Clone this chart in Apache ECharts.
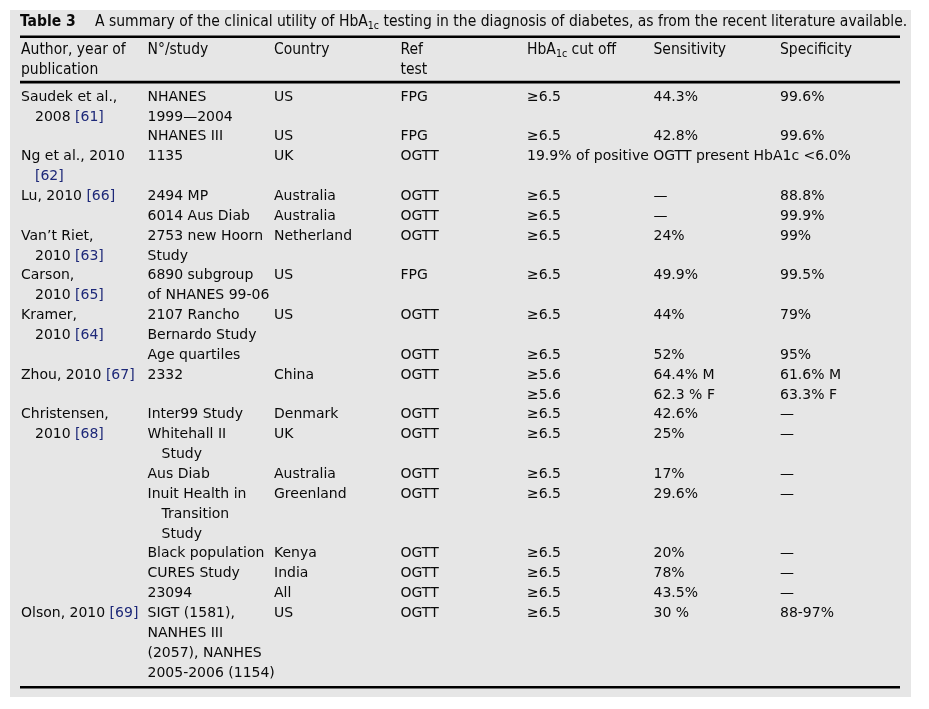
<!DOCTYPE html>
<html><head><meta charset="utf-8">
<script src="https://cdn.jsdelivr.net/npm/echarts@6/dist/echarts.min.js"></script>
<style>html,body{margin:0;padding:0;background:#fff}#c{width:929px;height:709px}</style>
</head><body><div id="c"></div>
<script>
// ---------- data ----------
const tableLabel = 'Table 3';
const tableTitle = 'A summary of the clinical utility of HbA{sub|1c} testing in the diagnosis of diabetes, as from the recent literature available.';
const headerLines = [
  ['Author, year of', 'publication'],
  ['N\u00b0/study'],
  ['Country'],
  ['Ref', 'test'],
  ['HbA{sub|1c} cut off'],
  ['Sensitivity'],
  ['Specificity']
];
// one entry per text line of the table body; a leading two spaces marks a hanging indent
const authorCol = ['Saudek et al.,', '  2008 [61]', '', 'Ng et al., 2010', '  [62]', 'Lu, 2010 [66]', '', 'Van\u2019t Riet,', '  2010 [63]', 'Carson,', '  2010 [65]', 'Kramer,', '  2010 [64]', '', 'Zhou, 2010 [67]', '', 'Christensen,', '  2010 [68]', '', '', '', '', '', '', '', '', 'Olson, 2010 [69]', '', '', ''];
const studyCol = ['NHANES', '1999\u20142004', 'NHANES III', '1135', '', '2494 MP', '6014 Aus Diab', '2753 new Hoorn', 'Study', '6890 subgroup', 'of NHANES 99-06', '2107 Rancho', 'Bernardo Study', 'Age quartiles', '2332', '', 'Inter99 Study', 'Whitehall II', '  Study', 'Aus Diab', 'Inuit Health in', '  Transition', '  Study', 'Black population', 'CURES Study', '23094', 'SIGT (1581),', 'NANHES III', '(2057), NANHES', '2005-2006 (1154)'];
const countryCol = ['US', '', 'US', 'UK', '', 'Australia', 'Australia', 'Netherland', '', 'US', '', 'US', '', '', 'China', '', 'Denmark', 'UK', '', 'Australia', 'Greenland', '', '', 'Kenya', 'India', 'All', 'US', '', '', ''];
const refTestCol = ['FPG', '', 'FPG', 'OGTT', '', 'OGTT', 'OGTT', 'OGTT', '', 'FPG', '', 'OGTT', '', 'OGTT', 'OGTT', '', 'OGTT', 'OGTT', '', 'OGTT', 'OGTT', '', '', 'OGTT', 'OGTT', 'OGTT', 'OGTT', '', '', ''];
const cutoffCol = ['\u22656.5', '', '\u22656.5', '19.9% of positive OGTT present HbA1c <6.0%', '', '\u22656.5', '\u22656.5', '\u22656.5', '', '\u22656.5', '', '\u22656.5', '', '\u22656.5', '\u22655.6', '\u22655.6', '\u22656.5', '\u22656.5', '', '\u22656.5', '\u22656.5', '', '', '\u22656.5', '\u22656.5', '\u22656.5', '\u22656.5', '', '', ''];
const sensitivityCol = ['44.3%', '', '42.8%', '', '', '\u2014', '\u2014', '24%', '', '49.9%', '', '44%', '', '52%', '64.4% M', '62.3 % F', '42.6%', '25%', '', '17%', '29.6%', '', '', '20%', '78%', '43.5%', '30 %', '', '', ''];
const specificityCol = ['99.6%', '', '99.6%', '', '', '88.8%', '99.9%', '99%', '', '99.5%', '', '79%', '', '95%', '61.6% M', '63.3% F', '\u2014', '\u2014', '', '\u2014', '\u2014', '', '', '\u2014', '\u2014', '\u2014', '88-97%', '', '', ''];

const columns = [authorCol, studyCol, countryCol, refTestCol, cutoffCol, sensitivityCol, specificityCol];

// ---------- layout ----------
const COL0 = 21, COLW = 126.5, ROW0 = 97, ROWH = 19.86;
const nLines = authorCol.length;
const BODY_FONT = 'DejaVu Sans';
const HEAD_FONT = 'DejaVu Sans Condensed';
const HEAD_SIZE = 15.5;
const TXT = '#0a0a0a';
const REF = '#1d2878';
const BG = '#e6e6e6';

const cells = [];
const cellText = [];
columns.forEach((col, c) => col.forEach((t, i) => {
  if (t) { cells.push([c, i]); cellText.push(t); }
}));

function bodyRich() {
  return {
    ref: { fill: REF, fontFamily: BODY_FONT, fontSize: 14 }
  };
}
function headRich() {
  return {
    sub: { fill: TXT, fontFamily: HEAD_FONT, fontSize: 10.5, padding: [8, 0, 0, 0] }
  };
}

const chart = echarts.init(document.getElementById('c'), null, { renderer: 'canvas' });

const graphics = [
  { type: 'rect', z: -100, shape: { x: 10, y: 10, width: 901, height: 687 }, style: { fill: BG } },
  { type: 'rect', shape: { x: 20, y: 35.5, width: 880, height: 2.6 }, style: { fill: '#000' } },
  { type: 'rect', shape: { x: 20, y: 80.8, width: 880, height: 2.6 }, style: { fill: '#000' } },
  { type: 'rect', shape: { x: 20, y: 686, width: 880, height: 2.6 }, style: { fill: '#000' } },
  { type: 'text', x: 20, y: 22, style: { text: tableLabel, fill: TXT, fontFamily: HEAD_FONT, fontWeight: 'bold', fontSize: HEAD_SIZE, verticalAlign: 'middle' } },
  { type: 'text', x: 95, y: 22, style: { text: tableTitle, fill: TXT, fontFamily: HEAD_FONT, fontSize: HEAD_SIZE, verticalAlign: 'middle', rich: headRich() } }
];
headerLines.forEach((lines, c) => lines.forEach((t, k) => {
  graphics.push({ type: 'text', x: COL0 + c * COLW, y: 50 + k * 20,
    style: { text: t, fill: TXT, fontFamily: HEAD_FONT, fontSize: HEAD_SIZE, verticalAlign: 'middle', rich: headRich() } });
}));

chart.setOption({
  animation: false,
  grid: { left: COL0, top: ROW0, width: COLW * 7, height: ROWH * (nLines - 1) },
  xAxis: { type: 'value', min: 0, max: 7, show: false },
  yAxis: { type: 'value', min: 0, max: nLines - 1, inverse: true, show: false },
  graphic: graphics,
  series: [{
    type: 'custom',
    coordinateSystem: 'cartesian2d',
    data: cells,
    silent: true,
    renderItem: function (params, api) {
      const p = api.coord([api.value(0), api.value(1)]);
      let t = cellText[params.dataIndex];
      let dx = 0;
      if (t.startsWith('  ')) { dx = 14; t = t.slice(2); }
      t = t.replace(/\[(\d+)\]/g, '{ref|[$1]}');
      return {
        type: 'text',
        x: p[0] + dx,
        y: p[1],
        style: {
          text: t, fill: TXT, fontFamily: BODY_FONT, fontSize: 14,
          align: 'left', verticalAlign: 'middle', rich: bodyRich()
        }
      };
    }
  }]
});
</script></body></html>
